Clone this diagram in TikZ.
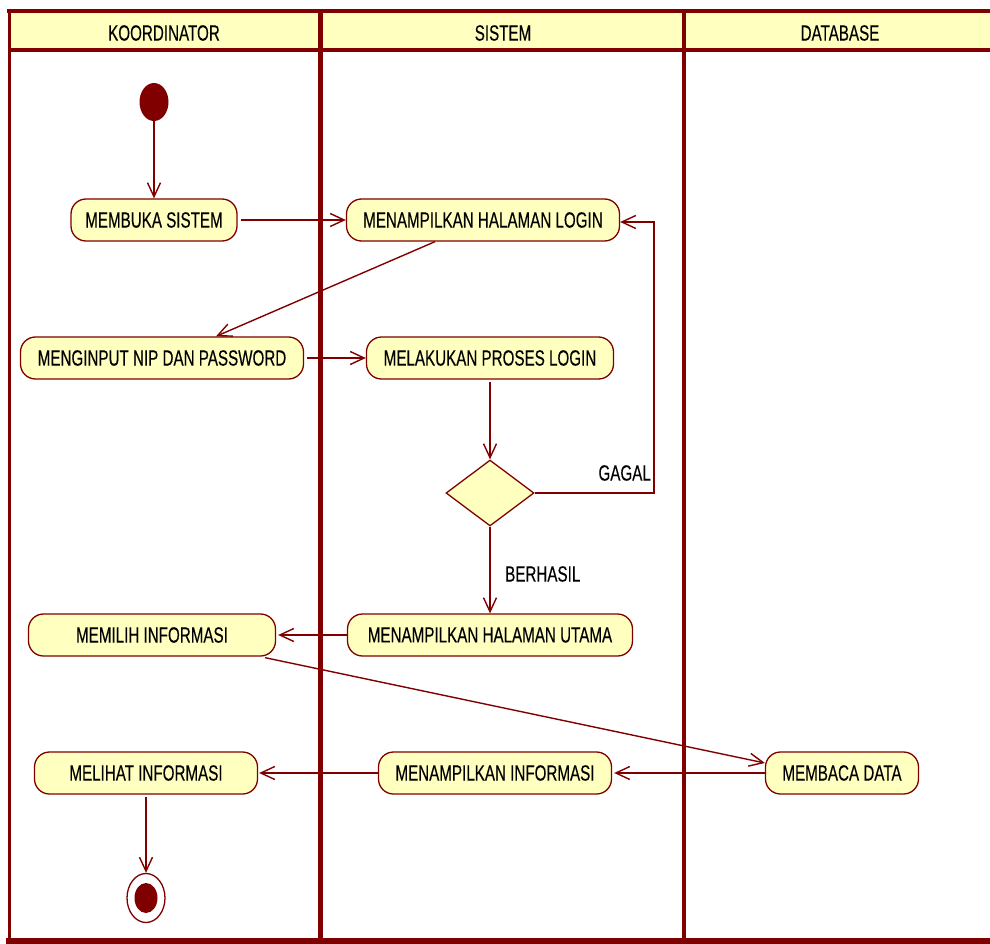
\documentclass[tikz,border=0pt]{standalone}
\usepackage{fontspec}
\setmainfont[FakeStretch=0.69,FakeBold=0.25]{Liberation Sans}
\usetikzlibrary{arrows.meta,shapes.geometric}
\definecolor{dr}{HTML}{800000}
\definecolor{yl}{HTML}{FFFFC0}
\begin{document}
\begin{tikzpicture}[x=1pt,y=-1pt,
  txt/.style={font=\fontsize{22}{24}\selectfont,text=black,inner sep=0pt},
  act/.style={txt,draw=dr,fill=yl,line width=1.3pt,rounded corners=15pt,minimum height=42pt},
  flow/.style={draw=dr,line width=1.4pt,-{Straight Barb[length=14pt,width=13pt,line width=1.4pt]}},
  lane/.style={draw=dr}]
\useasboundingbox (0,0) rectangle (990,944);
% swimlanes
\fill[yl] (8,10) rectangle (992,50);
\draw[lane,line width=4pt] (7,11) -- (992,11);
\draw[lane,line width=3.5pt] (8,50) -- (992,50);
\draw[lane,line width=3pt] (9,9) -- (9,942);
\draw[lane,line width=5pt] (320,9) -- (320,940);
\draw[lane,line width=4pt] (684,9) -- (684,940);
\draw[lane,line width=6pt] (6,941) -- (992,941);
\node[txt] (h1) at (164,33) {KOORDINATOR};
\node[txt] (h2) at (503,33) {SISTEM};
\node[txt] (h3) at (840,33) {DATABASE};
% nodes
\node[ellipse,fill=dr,minimum width=29pt,minimum height=38pt,inner sep=0pt] (start) at (154,102) {};
\node[act,minimum width=166pt] (membuka) at (154,220) {MEMBUKA SISTEM};
\node[act,minimum width=273pt] (login) at (483,220) {MENAMPILKAN HALAMAN LOGIN};
\node[act,minimum width=283pt] (input) at (162,358) {MENGINPUT NIP DAN PASSWORD};
\node[act,minimum width=247pt] (proses) at (490,358) {MELAKUKAN PROSES LOGIN};
\node[diamond,draw=dr,fill=yl,line width=1.3pt,minimum width=88pt,minimum height=66pt,inner sep=0pt] (dec) at (490,493) {};
\node[act,minimum width=285pt] (utama) at (490,635) {MENAMPILKAN HALAMAN UTAMA};
\node[act,minimum width=247pt] (memilih) at (152,635) {MEMILIH INFORMASI};
\node[act,minimum width=223pt] (melihat) at (146,773) {MELIHAT INFORMASI};
\node[act,minimum width=233pt] (meninfo) at (495,773) {MENAMPILKAN INFORMASI};
\node[act,minimum width=153pt] (membaca) at (842,773) {MEMBACA DATA};
\node[ellipse,draw=dr,fill=white,line width=1.3pt,minimum width=38pt,minimum height=49pt,inner sep=0pt] (end) at (146,898) {};
\node[ellipse,fill=dr,minimum width=23pt,minimum height=30pt,inner sep=0pt] (endin) at (146,898) {};
\coordinate (gk) at (654,493);
\node[txt,anchor=east] (gagal) at (651,473) {GAGAL};
\node[txt,anchor=west] (berhasil) at (505,574) {BERHASIL};
% edges
\draw[flow] (start) -- (membuka);
\draw[flow] ([xshift=3pt]membuka.east) -- (login.west);
\draw[flow] ([xshift=-48pt]login.south) -- ([xshift=54pt]input.north);
\draw[flow] ([xshift=3pt]input.east) -- (proses.west);
\draw[flow] ([yshift=-2pt]proses.south) -- (dec.north);
\draw[flow] (dec.east) -- (gk) |- ([yshift=-2pt]login.east);
\draw[flow] (dec.south) -- (utama.north);
\draw[flow] (utama.west) -- ([xshift=2pt]memilih.east);
\draw[flow] ([xshift=113pt,yshift=-1pt]memilih.south) -- ([yshift=10pt]membaca.west);
\draw[flow] (membaca.west) -- ([xshift=2pt]meninfo.east);
\draw[flow] (meninfo.west) -- ([xshift=1pt]melihat.east);
\draw[flow] ([yshift=-2pt]melihat.south) -- (end.north);
\end{tikzpicture}
\end{document}
